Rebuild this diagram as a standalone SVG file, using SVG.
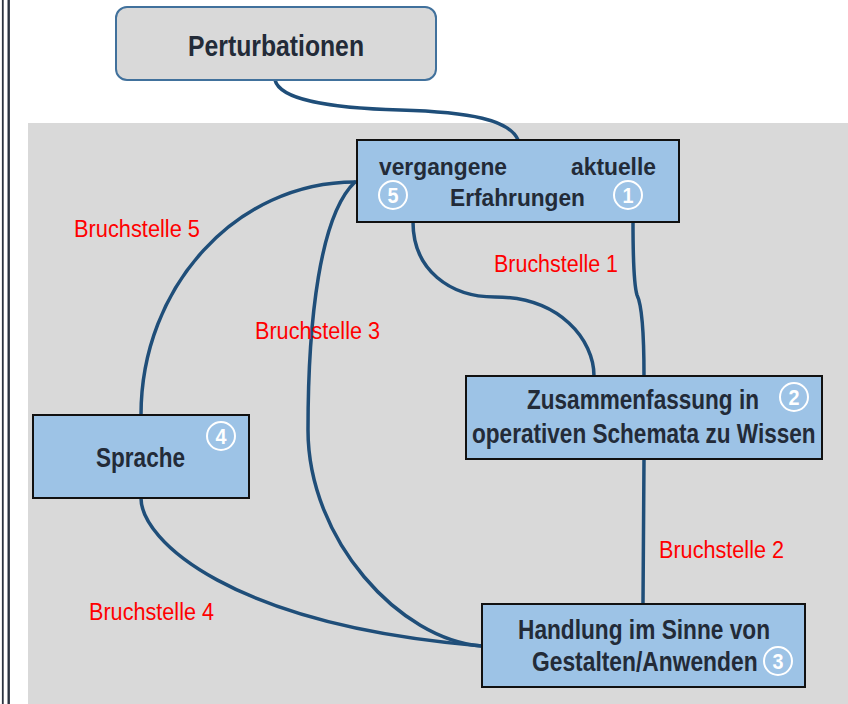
<svg xmlns="http://www.w3.org/2000/svg" width="848" height="704" viewBox="0 0 848 704">
<style>
.bg{fill:#d9d9d9}
.node{fill:#9dc3e6;stroke:#111;stroke-width:2}
.t{font-family:"Liberation Sans",Arial,sans-serif;font-weight:bold;fill:#232b38}
.num{fill:none;stroke:#fff;stroke-width:2}
.nt{font-family:"Liberation Sans",Arial,sans-serif;font-weight:bold;fill:#fff;font-size:22px;text-anchor:middle}
.lbl{font-family:"Liberation Sans",Arial,sans-serif;fill:#ff0000;font-size:23px}
.c{fill:none;stroke:#1f4e79;stroke-width:3.5;stroke-linecap:round}
</style>
<rect x="0" y="0" width="848" height="704" fill="#fff"/>
<line x1="2.8" y1="0" x2="2.8" y2="704" stroke="#2b3340" stroke-width="1.8"/>
<line x1="8.7" y1="0" x2="8.7" y2="704" stroke="#2b3340" stroke-width="2.4"/>
<rect class="bg" x="28" y="123" width="820" height="581"/>

<g id="connectors">
<path class="c" d="M275,80 C280,100 330,108 400,110 C470,112 510,120 518,140"/>
<path class="c" d="M413,222 C413,270 450,297 495,297 C560,297 594,340 594,376"/>
<path class="c" d="M633,222 C633,260 634,285 637,295 C642,305 644,340 644,376"/>
<path class="c" d="M644,459 L643,604"/>
<path class="c" d="M355,182 C237,182 141,286 141,415"/>
<path class="c" d="M355,182 C320,215 308,320 308,430 C308,540 400,640 482,646"/>
<path class="c" d="M141,498 C141,540 230,625 482,646"/>
</g>

<g id="perturbationen">
<rect x="116" y="7" width="320" height="73" rx="11" fill="#d9d9d9" stroke="#41719c" stroke-width="2"/>
<text class="t" x="188" y="56" font-size="29" textLength="176" lengthAdjust="spacingAndGlyphs">Perturbationen</text>
</g>

<g id="erfahrungen">
<rect class="node" x="357" y="140" width="322" height="82"/>
<text class="t" x="379" y="175" font-size="24" textLength="128" lengthAdjust="spacingAndGlyphs">vergangene</text>
<text class="t" x="571" y="175" font-size="24" textLength="85" lengthAdjust="spacingAndGlyphs">aktuelle</text>
<text class="t" x="450" y="206" font-size="24" textLength="135" lengthAdjust="spacingAndGlyphs">Erfahrungen</text>
<circle class="num" cx="393" cy="195" r="14"/>
<text class="nt" x="393" y="203" textLength="11" lengthAdjust="spacingAndGlyphs">5</text>
<circle class="num" cx="628" cy="195" r="14"/>
<text class="nt" x="628" y="203" textLength="11" lengthAdjust="spacingAndGlyphs">1</text>
</g>

<g id="zusammenfassung">
<rect class="node" x="466" y="376" width="356" height="83"/>
<text class="t" transform="translate(527,409) scale(0.836,1)" x="0" y="0" font-size="27">Zusammenfassung in</text>
<text class="t" transform="translate(472,443) scale(0.837,1)" x="0" y="0" font-size="27">operativen Schemata zu Wissen</text>
<circle class="num" cx="794" cy="397" r="14"/>
<text class="nt" x="794" y="405" textLength="11" lengthAdjust="spacingAndGlyphs">2</text>
</g>

<g id="sprache">
<rect class="node" x="33" y="415" width="216" height="83"/>
<text class="t" x="96" y="467" font-size="27" textLength="89" lengthAdjust="spacingAndGlyphs">Sprache</text>
<circle class="num" cx="221" cy="436" r="14"/>
<text class="nt" x="221" y="444" textLength="11" lengthAdjust="spacingAndGlyphs">4</text>
</g>

<g id="handlung">
<rect class="node" x="482" y="604" width="323" height="83"/>
<text class="t" x="518" y="639" font-size="27" textLength="252" lengthAdjust="spacingAndGlyphs">Handlung im Sinne von</text>
<text class="t" transform="translate(532,671) scale(0.845,1)" x="0" y="0" font-size="27">Gestalten/Anwenden</text>
<circle class="num" cx="778" cy="661" r="14"/>
<text class="nt" x="778" y="669" textLength="11" lengthAdjust="spacingAndGlyphs">3</text>
</g>

<g id="labels">
<text class="lbl" x="74" y="237" textLength="126" lengthAdjust="spacingAndGlyphs">Bruchstelle 5</text>
<text class="lbl" x="255" y="339" textLength="125" lengthAdjust="spacingAndGlyphs">Bruchstelle 3</text>
<text class="lbl" x="494" y="272" textLength="124" lengthAdjust="spacingAndGlyphs">Bruchstelle 1</text>
<text class="lbl" x="659" y="558" textLength="125" lengthAdjust="spacingAndGlyphs">Bruchstelle 2</text>
<text class="lbl" x="89" y="620" textLength="125" lengthAdjust="spacingAndGlyphs">Bruchstelle 4</text>
</g>
</svg>
